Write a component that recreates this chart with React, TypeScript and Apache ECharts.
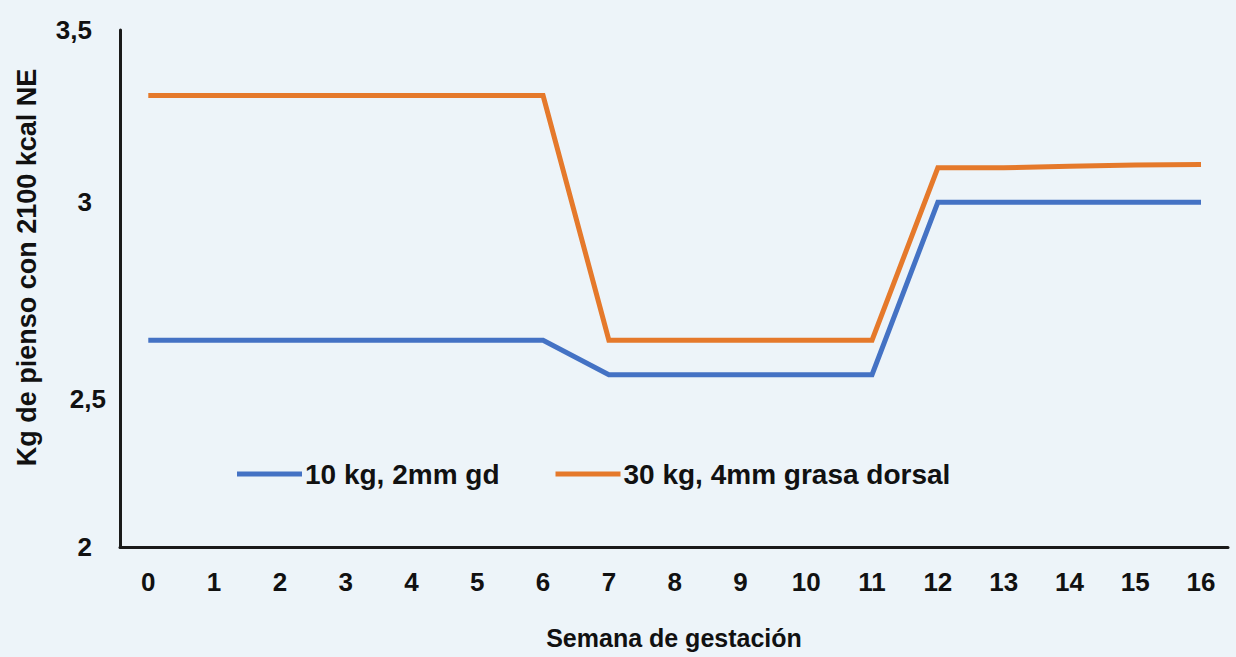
import React, { useEffect, useRef } from "react";
import * as echarts from "echarts";

const weeks = [0, 1, 2, 3, 4, 5, 6, 7, 8, 9, 10, 11, 12, 13, 14, 15, 16];
const blueName = "10 kg, 2mm gd";
const orangeName = "30 kg, 4mm grasa dorsal";
const blueValues = [2.6, 2.6, 2.6, 2.6, 2.6, 2.6, 2.6, 2.5, 2.5, 2.5, 2.5, 2.5, 3.0, 3.0, 3.0, 3.0, 3.0];
const orangeValues = [3.31, 3.31, 3.31, 3.31, 3.31, 3.31, 3.31, 2.6, 2.6, 2.6, 2.6, 2.6, 3.1, 3.1, 3.105, 3.108, 3.11];
const yTicks = [2, 2.5, 3, 3.5];
const xTitle = "Semana de gestación";
const yTitle = "Kg de pienso con 2100 kcal NE";

const FONT = "'Liberation Sans', Arial, sans-serif";
const INK = "#111";

export default function App() {
  const ref = useRef<HTMLDivElement>(null);
  useEffect(() => {
    if (!ref.current) return;
    const chart = echarts.init(ref.current, undefined, { renderer: "svg" });
    chart.setOption({
      animation: false,
      backgroundColor: "#edf4f9",
      textStyle: { fontFamily: FONT },
      grid: { left: 120, right: 8, top: 30, bottom: 110, containLabel: false },
      legend: {
        left: 232,
        top: 455,
        icon: "rect",
        itemWidth: 65,
        itemHeight: 5,
        itemGap: 56,
        textStyle: { fontSize: 28, fontWeight: "bold", color: INK, fontFamily: FONT, padding: [0, 0, 0, -2] },
        data: [blueName, orangeName],
      },
      xAxis: {
        type: "value",
        min: -0.43,
        max: 16.41,
        name: xTitle,
        nameLocation: "middle",
        nameGap: 78,
        nameTextStyle: { fontSize: 25, fontWeight: "bold", color: INK, fontFamily: FONT },
        axisLine: { show: true, onZero: false, lineStyle: { color: "#1a1a1a", width: 3 } },
        axisTick: { show: false },
        splitLine: { show: false },
        axisLabel: {
          customValues: weeks,
          margin: 22,
          fontSize: 26,
          fontWeight: "bold",
          color: INK,
          fontFamily: FONT,
          formatter: (v: number) => String(Math.round(v)),
        },
      },
      yAxis: {
        type: "value",
        min: 2,
        max: 3.5,
        interval: 0.5,
        name: yTitle,
        nameLocation: "middle",
        nameGap: 80,
        nameTextStyle: { fontSize: 27, fontWeight: "bold", color: INK, fontFamily: FONT, padding: [0, 0, 0, 42] },
        axisLine: { show: true, onZero: false, lineStyle: { color: "#1a1a1a", width: 3 } },
        axisTick: { show: false },
        splitLine: { show: false },
        axisLabel: {
          margin: 14,
          fontSize: 26,
          fontWeight: "bold",
          color: INK,
          fontFamily: FONT,
          customValues: yTicks,
          formatter: (v: number) => {
            const s = String(v).replace(".", ",");
            if (Math.abs(v - 2.5) < 1e-6) return "{m|" + s + "}";
            return "{n|" + s + "}";
          },
          rich: {
            n: { fontSize: 26, fontWeight: "bold", color: INK, fontFamily: FONT, padding: [0, 14, 0, 0] },
            m: { fontSize: 26, fontWeight: "bold", color: INK, fontFamily: FONT, padding: [48, 0, 0, 0] },
          },
        },
      },
      series: [
        {
          name: blueName,
          type: "line",
          symbol: "none",
          color: "#4472c4",
          lineStyle: { width: 5, color: "#4472c4", join: "miter" },
          data: weeks.map((w, i) => [w, blueValues[i]]),
        },
        {
          name: orangeName,
          type: "line",
          symbol: "none",
          color: "#e5792b",
          lineStyle: { width: 5, color: "#e5792b", join: "miter" },
          data: weeks.map((w, i) => [w, orangeValues[i]]),
        },
      ],
    });
    return () => chart.dispose();
  }, []);
  return <div ref={ref} style={{ width: 1236, height: 657, position: "fixed", left: 0, top: 0 }} />;
}
